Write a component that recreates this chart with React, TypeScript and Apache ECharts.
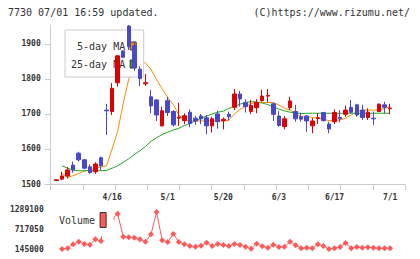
import React, { useEffect, useRef } from 'react';
import * as echarts from 'echarts';

// Trading days shown on the chart (2020)
const dates = [
  '4/2', '4/3', '4/6', '4/7', '4/8', '4/9', '4/10', '4/13', '4/14', '4/15',
  '4/16', '4/17', '4/20', '4/21', '4/22', '4/23', '4/24', '4/27', '4/28', '4/30',
  '5/1', '5/7', '5/8', '5/11', '5/12', '5/13', '5/14', '5/15', '5/18', '5/19',
  '5/20', '5/21', '5/22', '5/25', '5/26', '5/27', '5/28', '5/29', '6/1', '6/2',
  '6/3', '6/4', '6/5', '6/8', '6/9', '6/10', '6/11', '6/12', '6/15', '6/16',
  '6/17', '6/18', '6/19', '6/22', '6/23', '6/24', '6/25', '6/26', '6/29', '6/30',
  '7/1',
];

// Daily prices: [open, close, low, high]
const ohlc = [
  [1510, 1512, 1510, 1512], [1514, 1523, 1511, 1535], [1523, 1540, 1516, 1549],
  [1554, 1540, 1532, 1564], [1588, 1569, 1564, 1592], [1569, 1545, 1542, 1572],
  [1549, 1533, 1529, 1556], [1535, 1557, 1529, 1562], [1575, 1552, 1540, 1578],
  [1711, 1709, 1640, 1729], [1707, 1773, 1697, 1788], [1789, 1866, 1778, 1866],
  [1880, 1862, 1860, 1882], [1951, 1892, 1883, 1954], [1895, 1832, 1823, 1905],
  [1828, 1801, 1780, 1836], [1786, 1789, 1780, 1814], [1749, 1723, 1702, 1769],
  [1740, 1697, 1680, 1742], [1666, 1709, 1664, 1721], [1738, 1704, 1694, 1749],
  [1707, 1669, 1664, 1711], [1688, 1691, 1666, 1732], [1681, 1695, 1671, 1702],
  [1705, 1673, 1662, 1713], [1688, 1680, 1669, 1695], [1694, 1686, 1671, 1700],
  [1689, 1666, 1642, 1697], [1666, 1686, 1647, 1692], [1700, 1678, 1658, 1709],
  [1681, 1685, 1656, 1690], [1699, 1692, 1681, 1707], [1719, 1757, 1711, 1771],
  [1757, 1743, 1721, 1766], [1732, 1721, 1704, 1742], [1707, 1724, 1700, 1740],
  [1718, 1733, 1702, 1742], [1738, 1751, 1735, 1769], [1751, 1753, 1733, 1771],
  [1729, 1699, 1680, 1733], [1694, 1667, 1664, 1708], [1664, 1686, 1656, 1694],
  [1718, 1737, 1711, 1749], [1707, 1686, 1678, 1726], [1692, 1685, 1678, 1704],
  [1694, 1680, 1649, 1697], [1666, 1680, 1645, 1688], [1687, 1689, 1671, 1702],
  [1704, 1681, 1678, 1706], [1671, 1657, 1645, 1678], [1678, 1704, 1671, 1713],
  [1690, 1686, 1676, 1711], [1699, 1711, 1692, 1724], [1719, 1705, 1702, 1740],
  [1726, 1697, 1692, 1729], [1711, 1690, 1683, 1726], [1690, 1705, 1683, 1716],
  [1688, 1686, 1669, 1707], [1707, 1728, 1705, 1730], [1726, 1719, 1702, 1735],
  [1715, 1717, 1699, 1729],
];

const ma5 = [
  null, 1530, 1519, 1524, 1530, 1537, 1540, 1545, 1549, 1552,
  1600, 1650, 1730, 1800, 1840, 1851, 1845, 1827, 1798, 1772,
  1747, 1727, 1697, 1683, 1680, 1680, 1680, 1680, 1680, 1680,
  1680, 1682, 1700, 1713, 1722, 1730, 1733, 1733, 1733, 1732,
  1726, 1716, 1711, 1702, 1692, 1692, 1690, 1688, 1685, 1681,
  1681, 1683, 1688, 1697, 1706, 1711, 1711, 1711, 1711, 1716,
  1721,
];

const ma25 = [
  null, 1552, 1545, 1540, 1538, 1538, 1538, 1538, 1538, 1539,
  1545, 1552, 1562, 1572, 1584, 1595, 1607, 1622, 1632, 1641,
  1648, 1654, 1659, 1667, 1673, 1680, 1688, 1694, 1700, 1705,
  1708, 1716, 1722, 1728, 1733, 1735, 1734, 1731, 1727, 1720,
  1714, 1709, 1705, 1703, 1701, 1702, 1702, 1702, 1702, 1702,
  1702, 1702, 1702, 1702, 1702, 1702, 1702, 1702, 1702, 1702,
  1702,
];

const volume = [
  null, 145000, 165000, 279000, 354000, 288000, 268000, 422000, 374000, 1289100,
  1010000, 1155000, 497000, 480000, 468000, 422000, 354000, 565000, 1203000, 394000,
  345000, 574000, 345000, 280000, 231000, 211000, 239000, 325000, 231000, 288000,
  259000, 231000, 288000, 259000, 211000, 154000, 297000, 222000, 182000, 268000,
  202000, 211000, 354000, 251000, 165000, 182000, 165000, 279000, 231000, 145000,
  165000, 202000, 317000, 165000, 202000, 182000, 194000, 182000, 165000, 165000,
  165000,
];

const priceTicks = [1500, 1600, 1700, 1800, 1900];
const volumeTicks = [145000, 717050, 1289100];

const MONO = '"DejaVu Sans Mono", "Liberation Mono", monospace';
const UP = '#dd0000';
const DOWN = '#4848c8';
const AXIS = '#cccccc';

export default function App() {
  const ref = useRef<HTMLDivElement>(null);

  useEffect(() => {
    if (!ref.current) return;
    const chart = echarts.init(ref.current, null, { renderer: 'svg' });
    const tickLabel = {
      fontFamily: MONO,
      fontSize: 8,
      fontWeight: 'bold',
      color: '#333',
      formatter: (v: number | string) => String(v),
    };

    chart.setOption({
      animation: false,
      title: [
        {
          text: '7730 07/01 16:59 updated.',
          left: 8,
          top: 7,
          padding: 0,
          textStyle: { fontFamily: MONO, fontSize: 10, fontWeight: 'normal', color: '#333' },
        },
        {
          text: '(C)https://www.rizumu.net/',
          right: 10,
          top: 7,
          padding: 0,
          textStyle: { fontFamily: MONO, fontSize: 10, fontWeight: 'normal', color: '#333' },
        },
      ],
      legend: [
        {
          data: ['5-day MA', '25-day MA'],
          orient: 'vertical',
          align: 'right',
          left: 65,
          top: 30,
          padding: [11, 7, 8, 6],
          itemGap: 8,
          itemWidth: 6,
          itemHeight: 8,
          icon: 'rect',
          itemStyle: { borderColor: '#333', borderWidth: 1 },
          backgroundColor: '#ffffff',
          borderColor: AXIS,
          borderWidth: 1,
          selectedMode: false,
          textStyle: { fontFamily: MONO, fontSize: 10, color: '#333' },
          z: 3,
        },
        {
          data: ['Volume'],
          orient: 'horizontal',
          align: 'right',
          left: 54,
          top: 205,
          padding: [7, 7, 8, 5],
          itemWidth: 6,
          itemHeight: 15,
          icon: 'rect',
          itemStyle: { borderColor: '#333', borderWidth: 1 },
          backgroundColor: '#ffffff',
          selectedMode: false,
          textStyle: { fontFamily: MONO, fontSize: 10, color: '#333' },
          z: 4,
        },
      ],
      grid: [
        { left: 53.7, right: 27.1, top: 25, bottom: 75 },
        { left: 53.7, right: 27.1, top: 209, bottom: 10 },
        { left: 50.7, right: 15, top: 25, bottom: 75 },
      ],
      xAxis: [
        {
          type: 'category',
          gridIndex: 0,
          data: dates,
          boundaryGap: true,
          axisLine: { show: false },
          axisTick: { show: false },
          splitLine: { show: false },
          axisLabel: {
            fontFamily: MONO,
            fontSize: 8,
            fontWeight: 'bold',
            color: '#333',
            margin: 9,
            interval: (i: number) => i > 0 && i % 10 === 0,
          },
        },
        {
          type: 'category',
          gridIndex: 1,
          data: dates,
          boundaryGap: true,
          show: false,
        },
        {
          type: 'value',
          gridIndex: 2,
          min: 0,
          max: 11,
          interval: 1,
          axisLine: { show: true, lineStyle: { color: AXIS } },
          axisTick: { show: true, length: 6, lineStyle: { color: AXIS } },
          axisLabel: { show: false },
          splitLine: { show: false },
        },
      ],
      yAxis: [
        {
          type: 'value',
          gridIndex: 0,
          min: 1500,
          max: 1954,
          interval: 100,
          offset: 3,
          axisLine: { show: true, lineStyle: { color: AXIS } },
          axisTick: { show: true, length: 6, customValues: priceTicks, lineStyle: { color: AXIS } },
          axisLabel: { ...tickLabel, margin: 10, customValues: priceTicks },
          splitLine: { show: false },
        },
        {
          type: 'value',
          gridIndex: 1,
          min: volumeTicks[0],
          max: volumeTicks[2],
          interval: volumeTicks[1] - volumeTicks[0],
          axisLine: { show: false },
          axisTick: { show: false },
          axisLabel: { ...tickLabel, margin: 10, customValues: volumeTicks },
          splitLine: { show: false },
        },
        { type: 'value', gridIndex: 2, min: 0, max: 1, show: false },
      ],
      series: [
        {
          type: 'candlestick',
          name: 'price',
          xAxisIndex: 0,
          yAxisIndex: 0,
          data: ohlc,
          barWidth: 4,
          itemStyle: {
            color: UP,
            color0: DOWN,
            borderColor: UP,
            borderColor0: DOWN,
            borderWidth: 1,
          },
          z: 5,
        },
        {
          type: 'line',
          name: '5-day MA',
          xAxisIndex: 0,
          yAxisIndex: 0,
          data: ma5,
          symbol: 'none',
          lineStyle: { width: 1, color: '#ff8c00' },
          itemStyle: { color: '#ff8c00' },
          z: 2,
        },
        {
          type: 'line',
          name: '25-day MA',
          xAxisIndex: 0,
          yAxisIndex: 0,
          data: ma25,
          symbol: 'none',
          lineStyle: { width: 1, color: '#22aa22' },
          itemStyle: { color: '#22aa22' },
          z: 2,
        },
        {
          type: 'line',
          name: 'Volume',
          xAxisIndex: 1,
          yAxisIndex: 1,
          data: volume,
          symbol: 'diamond',
          symbolSize: 6,
          showAllSymbol: true,
          lineStyle: { width: 1, color: '#ff5a5a' },
          itemStyle: { color: '#ff5a5a' },
          z: 2,
        },
      ],
    });

    return () => chart.dispose();
  }, []);

  return (
    <div
      ref={ref}
      style={{ position: 'absolute', left: 0, top: 0, width: 420, height: 259, background: '#fff' }}
    />
  );
}
